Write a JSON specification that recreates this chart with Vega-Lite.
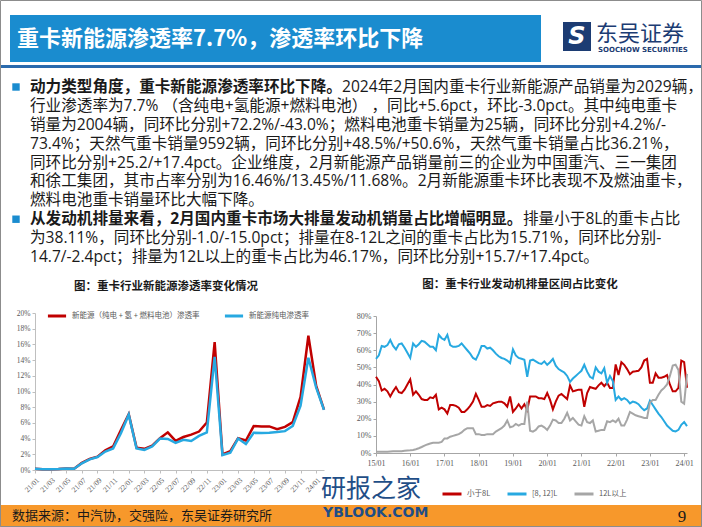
{
  "$schema": "https://vega.github.io/schema/vega-lite/v6.json",
  "width": 702,
  "height": 527,
  "autosize": {"type": "none"},
  "padding": 0,
  "background": "white",
  "config": {"view": {"stroke": null}},
  "datasets": {
    "body": [
      {"line": 1, "t": "2024年2月国内重卡行业新能源产品销量为2029辆，"},
      {"line": 2, "t": "行业渗透率为7.7%  （含纯电+氢能源+燃料电池） ，同比+5.6pct，环比-3.0pct。其中纯电重卡"},
      {"line": 3, "t": "销量为2004辆，同环比分别+72.2%/-43.0%；燃料电池重卡销量为25辆，同环比分别+4.2%/-"},
      {"line": 4, "t": "73.4%；天然气重卡销量9592辆，同环比分别+48.5%/+50.6%，天然气重卡销量占比36.21%，"},
      {"line": 5, "t": "同环比分别+25.2/+17.4pct。企业维度，2月新能源产品销量前三的企业为中国重汽、三一集团"},
      {"line": 6, "t": "和徐工集团，其市占率分别为16.46%/13.45%/11.68%。2月新能源重卡环比表现不及燃油重卡，"},
      {"line": 7, "t": "燃料电池重卡销量环比大幅下降。"},
      {"line": 8, "t": "排量小于8L的重卡占比"},
      {"line": 9, "t": "为38.11%，同环比分别-1.0/-15.0pct；排量在8-12L之间的重卡占比为15.71%，同环比分别-"},
      {"line": 10, "t": "14.7/-2.4pct；排量为12L以上的重卡占比为46.17%，同环比分别+15.7/+17.4pct。"}
    ],
    "leads": [
      {"line": 1, "t": "动力类型角度，重卡新能源渗透率环比下降。"},
      {"line": 8, "t": "从发动机排量来看，2月国内重卡市场大排量发动机销量占比增幅明显。"}
    ],
    "left": [
      {"m": "21/01", "a": 0.15, "b": 0.15}, {"m": "21/02", "a": 0.1, "b": 0.1}, {"m": "21/03", "a": 0.1, "b": 0.1},
      {"m": "21/04", "a": 0.12, "b": 0.12}, {"m": "21/05", "a": 0.2, "b": 0.2}, {"m": "21/06", "a": 0.15, "b": 0.15},
      {"m": "21/07", "a": 0.9, "b": 0.85}, {"m": "21/08", "a": 1.4, "b": 1.35}, {"m": "21/09", "a": 1.7, "b": 1.65},
      {"m": "21/10", "a": 2.5, "b": 2.35}, {"m": "21/11", "a": 3.0, "b": 2.75}, {"m": "21/12", "a": 5.1, "b": 4.7},
      {"m": "22/01", "a": 7.1, "b": 7.05}, {"m": "22/02", "a": 2.85, "b": 2.75}, {"m": "22/03", "a": 2.7, "b": 2.55},
      {"m": "22/04", "a": 3.1, "b": 3.0}, {"m": "22/05", "a": 4.05, "b": 4.0}, {"m": "22/06", "a": 4.8, "b": 3.95},
      {"m": "22/07", "a": 3.7, "b": 3.45}, {"m": "22/08", "a": 4.2, "b": 3.85}, {"m": "22/09", "a": 4.5, "b": 3.7},
      {"m": "22/10", "a": 4.9, "b": 4.35}, {"m": "22/11", "a": 6.05, "b": 4.8}, {"m": "22/12", "a": 16.3, "b": 14.4},
      {"m": "23/01", "a": 2.0, "b": 1.9}, {"m": "23/02", "a": 2.4, "b": 2.2}, {"m": "23/03", "a": 4.05, "b": 4.0},
      {"m": "23/04", "a": 3.75, "b": 3.3}, {"m": "23/05", "a": 5.6, "b": 4.75}, {"m": "23/06", "a": 5.55, "b": 4.7},
      {"m": "23/07", "a": 5.55, "b": 4.75}, {"m": "23/08", "a": 5.2, "b": 4.85}, {"m": "23/09", "a": 5.5, "b": 4.95},
      {"m": "23/10", "a": 6.1, "b": 5.6}, {"m": "23/11", "a": 9.3, "b": 8.2}, {"m": "23/12", "a": 17.1, "b": 14.3},
      {"m": "24/01", "a": 10.7, "b": 10.5}, {"m": "24/02", "a": 7.7, "b": 7.65}
    ],
    "right": [
      {"m": "15/01", "a": 44.5, "b": 55, "c": 0.8}, {"m": "15/02", "a": 42, "b": 57, "c": 0.8}, {"m": "15/03", "a": 36.5, "b": 62.5, "c": 0.7},
      {"m": "15/04", "a": 37.5, "b": 62, "c": 0.7}, {"m": "15/05", "a": 36, "b": 63, "c": 0.8}, {"m": "15/06", "a": 33, "b": 66, "c": 0.9},
      {"m": "15/07", "a": 36, "b": 62.5, "c": 1}, {"m": "15/08", "a": 38.5, "b": 60.5, "c": 1}, {"m": "15/09", "a": 35.5, "b": 63.5, "c": 1},
      {"m": "15/10", "a": 35, "b": 64, "c": 1}, {"m": "15/11", "a": 37, "b": 61.5, "c": 1.3}, {"m": "15/12", "a": 40, "b": 58.5, "c": 1.5},
      {"m": "16/01", "a": 43, "b": 55.5, "c": 1.6}, {"m": "16/02", "a": 34, "b": 64, "c": 1.8}, {"m": "16/03", "a": 36, "b": 62, "c": 2.2},
      {"m": "16/04", "a": 34, "b": 63.5, "c": 2.8}, {"m": "16/05", "a": 31.5, "b": 65.5, "c": 3.5}, {"m": "16/06", "a": 31, "b": 65, "c": 4.3},
      {"m": "16/07", "a": 31, "b": 63.5, "c": 5}, {"m": "16/08", "a": 32.5, "b": 62, "c": 5.5}, {"m": "16/09", "a": 32, "b": 62, "c": 6},
      {"m": "16/10", "a": 34, "b": 60, "c": 6}, {"m": "16/11", "a": 25.5, "b": 69, "c": 6}, {"m": "16/12", "a": 26.5, "b": 67, "c": 6.5},
      {"m": "17/01", "a": 25.5, "b": 66, "c": 8.5}, {"m": "17/02", "a": 23, "b": 69, "c": 8.5}, {"m": "17/03", "a": 28, "b": 63, "c": 9.5},
      {"m": "17/04", "a": 28, "b": 62, "c": 10}, {"m": "17/05", "a": 27.5, "b": 62, "c": 10.5}, {"m": "17/06", "a": 26.5, "b": 62.5, "c": 11},
      {"m": "17/07", "a": 24, "b": 64, "c": 12}, {"m": "17/08", "a": 24, "b": 62, "c": 13.5}, {"m": "17/09", "a": 25.5, "b": 60, "c": 14.5},
      {"m": "17/10", "a": 27.5, "b": 58, "c": 14.5}, {"m": "17/11", "a": 30, "b": 55.5, "c": 14.5}, {"m": "17/12", "a": 34.5, "b": 54.5, "c": 11},
      {"m": "18/01", "a": 31, "b": 58, "c": 11}, {"m": "18/02", "a": 27, "b": 62.5, "c": 10.5}, {"m": "18/03", "a": 27, "b": 62.5, "c": 10.5},
      {"m": "18/04", "a": 28, "b": 61, "c": 11}, {"m": "18/05", "a": 27.5, "b": 61.5, "c": 11}, {"m": "18/06", "a": 29, "b": 60, "c": 11},
      {"m": "18/07", "a": 29.5, "b": 58, "c": 12.5}, {"m": "18/08", "a": 30, "b": 56.5, "c": 13.5}, {"m": "18/09", "a": 30, "b": 55.5, "c": 14.5},
      {"m": "18/10", "a": 29, "b": 55, "c": 16}, {"m": "18/11", "a": 27, "b": 54, "c": 19}, {"m": "18/12", "a": 33, "b": 52.5, "c": 15},
      {"m": "19/01", "a": 24, "b": 60.5, "c": 15.5}, {"m": "19/02", "a": 26, "b": 57, "c": 17}, {"m": "19/03", "a": 28.5, "b": 55.5, "c": 16},
      {"m": "19/04", "a": 26, "b": 55, "c": 17}, {"m": "19/05", "a": 28.5, "b": 54.5, "c": 17}, {"m": "19/06", "a": 25, "b": 44.5, "c": 30},
      {"m": "19/07", "a": 33, "b": 54, "c": 13}, {"m": "19/08", "a": 33, "b": 54.5, "c": 12.5}, {"m": "19/09", "a": 33, "b": 53.5, "c": 13.5},
      {"m": "19/10", "a": 32, "b": 52.5, "c": 15.5}, {"m": "19/11", "a": 32, "b": 52, "c": 16}, {"m": "19/12", "a": 31.5, "b": 53.5, "c": 15},
      {"m": "20/01", "a": 35, "b": 51.5, "c": 13.5}, {"m": "20/02", "a": 31, "b": 53, "c": 16}, {"m": "20/03", "a": 25.5, "b": 55, "c": 19.5},
      {"m": "20/04", "a": 30, "b": 51, "c": 19}, {"m": "20/05", "a": 33.5, "b": 49, "c": 17.5}, {"m": "20/06", "a": 34.5, "b": 48, "c": 17.5},
      {"m": "20/07", "a": 33, "b": 47, "c": 20}, {"m": "20/08", "a": 31.5, "b": 45, "c": 23.5}, {"m": "20/09", "a": 39.5, "b": 41.5, "c": 19},
      {"m": "20/10", "a": 36, "b": 43.5, "c": 20.5}, {"m": "20/11", "a": 36.5, "b": 45, "c": 18.5}, {"m": "20/12", "a": 37, "b": 46.5, "c": 16.5},
      {"m": "21/01", "a": 37, "b": 48, "c": 16}, {"m": "21/02", "a": 27, "b": 51.5, "c": 21.5}, {"m": "21/03", "a": 35, "b": 47.5, "c": 18},
      {"m": "21/04", "a": 38.5, "b": 44.5, "c": 17.5}, {"m": "21/05", "a": 38, "b": 43.5, "c": 19}, {"m": "21/06", "a": 37.5, "b": 50, "c": 12.5},
      {"m": "21/07", "a": 39.5, "b": 47.5, "c": 13}, {"m": "21/08", "a": 41, "b": 46.5, "c": 13.5}, {"m": "21/09", "a": 39, "b": 49.5, "c": 13.5},
      {"m": "21/10", "a": 41, "b": 41, "c": 18.5}, {"m": "21/11", "a": 38, "b": 45, "c": 18}, {"m": "21/12", "a": 38, "b": 42, "c": 19},
      {"m": "22/01", "a": 51.7, "b": 31, "c": 18}, {"m": "22/02", "a": 45.5, "b": 33, "c": 20}, {"m": "22/03", "a": 53, "b": 31, "c": 16},
      {"m": "22/04", "a": 51.5, "b": 32, "c": 16}, {"m": "22/05", "a": 49, "b": 31, "c": 19.5}, {"m": "22/06", "a": 46, "b": 29, "c": 24},
      {"m": "22/07", "a": 47.5, "b": 30, "c": 23}, {"m": "22/08", "a": 47.7, "b": 29.5, "c": 22}, {"m": "22/09", "a": 48, "b": 28.5, "c": 21.5},
      {"m": "22/10", "a": 50, "b": 26.5, "c": 21}, {"m": "22/11", "a": 54, "b": 25, "c": 20.5}, {"m": "22/12", "a": 55, "b": 26, "c": 20.5},
      {"m": "23/01", "a": 41, "b": 30.5, "c": 29.5}, {"m": "23/02", "a": 41, "b": 28, "c": 31}, {"m": "23/03", "a": 46.5, "b": 25.5, "c": 31},
      {"m": "23/04", "a": 44, "b": 23, "c": 34}, {"m": "23/05", "a": 44, "b": 21, "c": 36.5}, {"m": "23/06", "a": 44.5, "b": 18.5, "c": 38},
      {"m": "23/07", "a": 45.5, "b": 16, "c": 40}, {"m": "23/08", "a": 40, "b": 14.5, "c": 45}, {"m": "23/09", "a": 36, "b": 13, "c": 51},
      {"m": "23/10", "a": 36, "b": 12.6, "c": 51.5}, {"m": "23/11", "a": 38, "b": 13.5, "c": 48.5}, {"m": "23/12", "a": 54, "b": 16.5, "c": 30},
      {"m": "24/01", "a": 53.1, "b": 18.1, "c": 28.8}, {"m": "24/02", "a": 38.1, "b": 15.7, "c": 46.2}
    ]
  },
  "layer": [
    {
      "data": {"values": [{}]},
      "mark": {"type": "rect", "fill": "#1a8ccf"},
      "encoding": {"x": {"value": 10}, "x2": {"value": 541}, "y": {"value": 15}, "y2": {"value": 62}}
    },
    {
      "data": {"values": [{"t": "重卡新能源渗透率7.7%，渗透率环比下降"}]},
      "mark": {"type": "text", "font": "Noto Sans CJK SC", "fontSize": 22, "fontWeight": "bold", "fill": "white", "align": "left", "baseline": "middle"},
      "encoding": {"x": {"value": 17}, "y": {"value": 39}, "text": {"field": "t"}}
    },
    {
      "data": {"values": [{}]},
      "mark": {"type": "rect", "fill": "#2a6aad"},
      "encoding": {"x": {"value": 0}, "x2": {"value": 702}, "y": {"value": 65}, "y2": {"value": 68}}
    },
    {
      "data": {"values": [{}]},
      "mark": {"type": "rect", "fill": "#1c3c73"},
      "encoding": {"x": {"value": 563}, "x2": {"value": 591}, "y": {"value": 22}, "y2": {"value": 51}}
    },
    {
      "data": {"values": [{"t": "S"}]},
      "mark": {"type": "text", "font": "DejaVu Sans", "fontSize": 24, "fontWeight": "bold", "fontStyle": "italic", "fill": "white", "align": "center", "baseline": "middle"},
      "encoding": {"x": {"value": 577}, "y": {"value": 37}, "text": {"field": "t"}}
    },
    {
      "data": {"values": [{"t": "东吴证券"}]},
      "mark": {"type": "text", "font": "Noto Sans CJK SC", "fontSize": 22, "fill": "#1c3c73", "align": "left", "baseline": "middle"},
      "encoding": {"x": {"value": 596}, "y": {"value": 34}, "text": {"field": "t"}}
    },
    {
      "data": {"values": [{"t": "SOOCHOW SECURITIES"}]},
      "mark": {"type": "text", "font": "DejaVu Sans", "fontSize": 7, "fontWeight": "bold", "fill": "#1c3c73", "align": "left", "baseline": "middle"},
      "encoding": {"x": {"value": 598}, "y": {"value": 50}, "text": {"field": "t"}}
    },
    {
      "data": {"name": "leads"},
      "mark": {"type": "point", "shape": "square", "size": 55, "filled": true, "fill": "#1a8ccf", "opacity": 1},
      "encoding": {
        "x": {"value": 16},
        "y": {"field": "line", "type": "quantitative", "scale": {"domain": [1, 10], "range": [87, 257], "zero": false, "nice": false}, "axis": null}
      }
    },
    {
      "data": {"name": "leads"},
      "mark": {"type": "text", "font": "'Open Sans', 'Noto Sans CJK SC'", "fontSize": 15.6, "fontWeight": "bold", "fill": "#1a1a1a", "align": "left", "baseline": "middle"},
      "encoding": {
        "x": {"value": 30},
        "y": {"field": "line", "type": "quantitative", "scale": {"domain": [1, 10], "range": [87, 257], "zero": false, "nice": false}, "axis": null},
        "text": {"field": "t"}
      }
    },
    {
      "data": {"name": "body"},
      "transform": [{"filter": "datum.line != 1 && datum.line != 8"}],
      "mark": {"type": "text", "font": "'Open Sans', 'Noto Sans CJK SC'", "fontSize": 15.6, "fill": "#1a1a1a", "align": "left", "baseline": "middle"},
      "encoding": {
        "x": {"value": 30},
        "y": {"field": "line", "type": "quantitative", "scale": {"domain": [1, 10], "range": [87, 257], "zero": false, "nice": false}, "axis": null},
        "text": {"field": "t"}
      }
    },
    {
      "data": {"name": "body"},
      "transform": [{"filter": "datum.line == 1"}],
      "mark": {"type": "text", "font": "'Open Sans', 'Noto Sans CJK SC'", "fontSize": 15.6, "fill": "#1a1a1a", "align": "left", "baseline": "middle", "dx": 312},
      "encoding": {
        "x": {"value": 30},
        "y": {"field": "line", "type": "quantitative", "scale": {"domain": [1, 10], "range": [87, 257], "zero": false, "nice": false}, "axis": null},
        "text": {"field": "t"}
      }
    },
    {
      "data": {"name": "body"},
      "transform": [{"filter": "datum.line == 8"}],
      "mark": {"type": "text", "font": "'Open Sans', 'Noto Sans CJK SC'", "fontSize": 15.6, "fill": "#1a1a1a", "align": "left", "baseline": "middle", "dx": 493},
      "encoding": {
        "x": {"value": 30},
        "y": {"field": "line", "type": "quantitative", "scale": {"domain": [1, 10], "range": [87, 257], "zero": false, "nice": false}, "axis": null},
        "text": {"field": "t"}
      }
    },
    {
      "data": {"values": [{"t": "图：重卡行业新能源渗透率变化情况"}]},
      "mark": {"type": "text", "font": "Noto Sans CJK SC", "fontSize": 11.5, "fontWeight": "bold", "fill": "#1a1a1a", "align": "center", "baseline": "middle"},
      "encoding": {"x": {"value": 166}, "y": {"value": 287}, "text": {"field": "t"}}
    },
    {
      "data": {"values": [{"t": "图：重卡行业发动机排量区间占比变化"}]},
      "mark": {"type": "text", "font": "Noto Sans CJK SC", "fontSize": 11.5, "fontWeight": "bold", "fill": "#1a1a1a", "align": "center", "baseline": "middle"},
      "encoding": {"x": {"value": 520}, "y": {"value": 285}, "text": {"field": "t"}}
    },
    {
      "data": {"name": "left"},
      "transform": [{"fold": ["a", "b"], "as": ["s", "v"]}],
      "mark": {"type": "line", "strokeWidth": 2.5},
      "encoding": {
        "x": {
          "field": "m", "type": "ordinal",
          "scale": {"type": "point", "range": [35, 324], "padding": 0},
          "axis": {
            "orient": "bottom", "offset": -57, "title": null, "grid": false,
            "values": ["21/01","21/03","21/05","21/07","21/09","21/11","22/01","22/03","22/05","22/07","22/09","22/11","23/01","23/03","23/05","23/07","23/09","23/11","24/01"],
            "labelAngle": -45, "labelAlign": "right", "labelBaseline": "top", "labelPadding": 3,
            "labelFont": "Liberation Serif", "labelFontSize": 7.5, "labelColor": "#595959",
            "domainColor": "#BFBFBF", "tickColor": "#BFBFBF", "tickSize": 3, "labelOverlap": false
          }
        },
        "y": {
          "field": "v", "type": "quantitative",
          "scale": {"domain": [0, 20], "range": [470, 313], "nice": false, "zero": false},
          "axis": {
            "orient": "left", "offset": -35, "title": null, "grid": false,
            "values": [0, 2, 4, 6, 8, 10, 12, 14, 16, 18, 20],
            "labelExpr": "datum.value + '%'",
            "labelFont": "Liberation Serif", "labelFontSize": 7.5, "labelColor": "#595959", "labelPadding": 2,
            "domainColor": "#BFBFBF", "tickColor": "#BFBFBF", "tickSize": 3
          }
        },
        "color": {
          "field": "s", "type": "nominal",
          "scale": {"domain": ["a", "b"], "range": ["#C00000", "#27A9E1"]},
          "legend": {
            "orient": "none", "legendX": 46, "legendY": 305, "direction": "horizontal", "title": null,
            "symbolType": "stroke", "symbolStrokeWidth": 3, "symbolSize": 330,
            "labelFont": "Noto Sans CJK SC", "labelFontSize": 7.5, "labelColor": "#595959", "columnPadding": 18,
            "labelExpr": "datum.value == 'a' ? '新能源（纯电 + 氢 + 燃料电池）渗透率' : '新能源纯电渗透率'"
          }
        }
      }
    },
    {
      "data": {"name": "right"},
      "transform": [{"fold": ["a", "b", "c"], "as": ["s", "v"]}],
      "mark": {"type": "line", "strokeWidth": 2},
      "encoding": {
        "x": {
          "field": "m", "type": "ordinal",
          "scale": {"type": "point", "range": [376, 687], "padding": 0},
          "axis": {
            "orient": "bottom", "offset": -74, "title": null, "grid": false,
            "values": ["15/01","16/01","17/01","18/01","19/01","20/01","21/01","22/01","23/01","24/01"],
            "labelAngle": 0, "labelPadding": 3,
            "labelFont": "Liberation Serif", "labelFontSize": 8, "labelColor": "#595959",
            "domainColor": "#A6A6A6", "tickColor": "#A6A6A6", "tickSize": 3
          }
        },
        "y": {
          "field": "v", "type": "quantitative",
          "scale": {"domain": [0, 80], "range": [453, 316], "nice": false, "zero": false},
          "axis": {
            "orient": "left", "offset": -376, "title": null, "grid": false,
            "values": [0, 10, 20, 30, 40, 50, 60, 70, 80],
            "labelExpr": "datum.value + '%'",
            "labelFont": "Liberation Serif", "labelFontSize": 8, "labelColor": "#595959", "labelPadding": 2,
            "domainColor": "#A6A6A6", "tickColor": "#A6A6A6", "tickSize": 3
          }
        },
        "color": {
          "field": "s", "type": "nominal",
          "scale": {"domain": ["a", "b", "c"], "range": ["#C00000", "#27A9E1", "#A6A6A6"]},
          "legend": {
            "orient": "none", "legendX": 441, "legendY": 483, "direction": "horizontal", "title": null,
            "symbolType": "stroke", "symbolStrokeWidth": 3, "symbolSize": 361,
            "labelFont": "Noto Sans CJK SC", "labelFontSize": 7.5, "labelColor": "#595959", "columnPadding": 10,
            "labelExpr": "datum.value == 'a' ? '小于8L' : datum.value == 'b' ? '[8, 12]L' : '12L以上'"
          }
        }
      }
    },
    {
      "data": {"values": [{}]},
      "mark": {"type": "rect", "fill": "#F7982B"},
      "encoding": {"x": {"value": 0}, "x2": {"value": 702}, "y": {"value": 505}, "y2": {"value": 527}}
    },
    {
      "data": {"values": [{"t": "数据来源：中汽协，交强险，东吴证券研究所"}]},
      "mark": {"type": "text", "font": "Noto Sans CJK SC", "fontSize": 13, "fill": "#1a1a1a", "align": "left", "baseline": "middle"},
      "encoding": {"x": {"value": 12}, "y": {"value": 516}, "text": {"field": "t"}}
    },
    {
      "data": {"values": [{"t": "9"}]},
      "mark": {"type": "text", "font": "Liberation Serif", "fontSize": 17, "fill": "#1a1a1a", "align": "center", "baseline": "middle"},
      "encoding": {"x": {"value": 682}, "y": {"value": 517}, "text": {"field": "t"}}
    },
    {
      "data": {"values": [{"t": "研报之家"}]},
      "mark": {"type": "text", "font": "Noto Sans CJK SC", "fontSize": 25, "fill": "#1f4e87", "align": "left", "baseline": "middle"},
      "encoding": {"x": {"value": 321}, "y": {"value": 489}, "text": {"field": "t"}}
    },
    {
      "data": {"values": [{"t": "YBLOOK.COM"}]},
      "mark": {"type": "text", "font": "DejaVu Sans", "fontSize": 14, "fontWeight": "bold", "fill": "#1f4e87", "align": "left", "baseline": "middle"},
      "encoding": {"x": {"value": 323}, "y": {"value": 513}, "text": {"field": "t"}}
    },
    {
      "data": {"values": [{}]},
      "mark": {"type": "rect", "fill": "transparent", "stroke": "#8c8c8c", "strokeWidth": 1},
      "encoding": {"x": {"value": 0.5}, "x2": {"value": 701.5}, "y": {"value": 0.5}, "y2": {"value": 526.5}}
    }
  ],
  "resolve": {
    "scale": {"x": "independent", "y": "independent", "color": "independent"},
    "axis": {"x": "independent", "y": "independent"},
    "legend": {"color": "independent"}
  }
}
